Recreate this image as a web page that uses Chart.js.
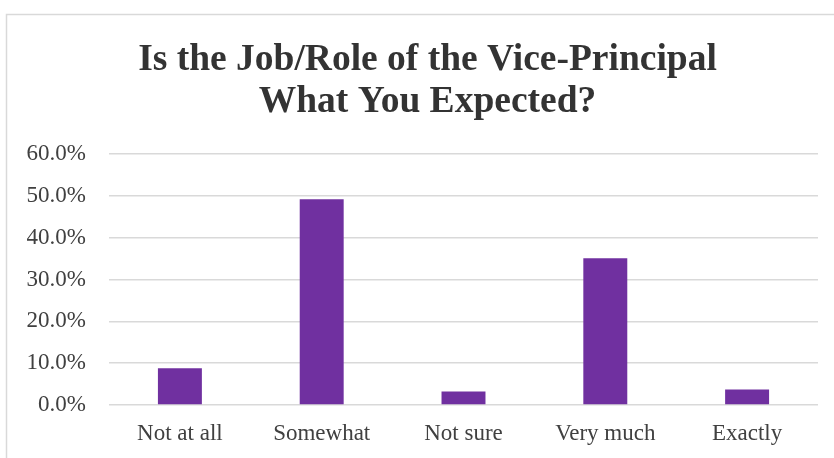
<!DOCTYPE html>
<html>
<head>
<meta charset="utf-8">
<script src="https://cdn.jsdelivr.net/npm/chart.js@4"></script>
<style>
  html, body { margin: 0; padding: 0; background: #fff; }
  #wrap { width: 834px; height: 458px; }
</style>
</head>
<body>
<div id="wrap"><canvas id="vp-chart" width="834" height="458"></canvas></div>
<script>
const categories = ["Not at all", "Somewhat", "Not sure", "Very much", "Exactly"];
const percents = [8.8, 49.2, 3.2, 35.1, 3.7];
const yTicks = [0, 10, 20, 30, 40, 50, 60];
const titleLines = ["Is the Job/Role of the Vice-Principal", "What You Expected?"];

// light frame around the chart object
const frame = {
    id: "frame",
    beforeDraw(chart) {
        const c = chart.ctx;
        c.save();
        c.fillStyle = "#ffffff";
        c.fillRect(0, 0, chart.width, chart.height);
        c.strokeStyle = "#d9d9d9";
        c.lineWidth = 1.5;
        c.strokeRect(6.5, 14.5, chart.width + 20, chart.height + 20);
        c.restore();
    },
};

// two-line heading, centred on the whole chart object
const heading = {
    id: "heading",
    afterDraw(chart) {
        const c = chart.ctx;
        c.save();
        c.fillStyle = "#333333";
        c.font = "bold 37.5px 'Liberation Serif'";
        c.textAlign = "center";
        c.textBaseline = "alphabetic";
        titleLines.forEach((line, i) => {
            c.fillText(line, 427.5, 69.5 + i * 42);
        });
        c.restore();
    },
};

const ctx = document.getElementById("vp-chart").getContext("2d");
new Chart(ctx, {
    type: "bar",
    data: {
        labels: categories,
        datasets: [
            {
                data: percents,
                backgroundColor: "#7030a0",
                borderWidth: 0,
                barPercentage: 0.31,
                categoryPercentage: 1,
            },
        ],
    },
    options: {
        responsive: false,
        animation: false,
        devicePixelRatio: 1,
        layout: { padding: { left: 27, right: 16, top: 154, bottom: 11 } },
        scales: {
            y: {
                min: 0,
                max: 60,
                afterBuildTicks: (axis) => {
                    axis.ticks = yTicks.map((v) => ({ value: v }));
                },
                afterFit: (axis) => {
                    axis.width = 82;
                },
                border: { display: false },
                grid: { color: "#d9d9d9", lineWidth: 1.5, drawTicks: false },
                ticks: {
                    padding: 23,
                    color: "#404040",
                    font: { family: "Liberation Serif", size: 23 },
                    callback: (v) => v.toFixed(1) + "%",
                },
            },
            x: {
                afterFit: (axis) => {
                    axis.height = 42;
                },
                border: { display: false },
                grid: { display: false, drawTicks: false },
                ticks: {
                    padding: 15,
                    maxRotation: 0,
                    color: "#404040",
                    font: { family: "Liberation Serif", size: 23 },
                },
            },
        },
        plugins: {
            legend: { display: false },
            tooltip: { enabled: false },
            title: { display: false },
        },
    },
    plugins: [frame, heading],
});
</script>
</body>
</html>
